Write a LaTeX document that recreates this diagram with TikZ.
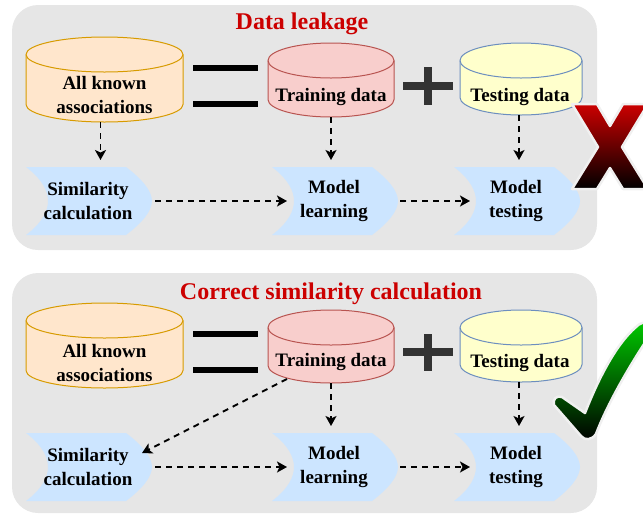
\documentclass[tikz,border=0pt]{standalone}
\usepackage{fontspec}
\setmainfont{Liberation Serif}
\usetikzlibrary{arrows.meta}

\definecolor{panelgray}{HTML}{E6E6E6}
\definecolor{orfill}{HTML}{FFE6CC}\definecolor{orline}{HTML}{D79B00}
\definecolor{rdfill}{HTML}{F8CECC}\definecolor{rdline}{HTML}{B85450}
\definecolor{ylfill}{HTML}{FFFFCC}\definecolor{blline}{HTML}{6C8EBF}
\definecolor{stepblue}{HTML}{CCE5FF}
\definecolor{titlered}{HTML}{CC0000}
\definecolor{plusgray}{HTML}{333333}
\definecolor{tickgreen}{HTML}{00CC00}

\def\dry{17.5}
% database drum: name, centre x, top y, width, height, colour style
\newcommand\drum[6]{%
  \pgfmathsetmacro\dL{#2-#4/2}%
  \pgfmathsetmacro\dR{#2+#4/2}%
  \pgfmathsetmacro\dT{#3+\dry}%
  \pgfmathsetmacro\dB{#3+#5-\dry}%
  \pgfmathsetmacro\dc{0.5523*#4/2}%
  \pgfmathsetmacro\dd{0.5523*\dry}%
  \path[#6] (\dL,\dT) -- (\dL,\dB)
     .. controls (\dL,{\dB+\dd}) and ({#2-\dc},{\dB+\dry}) .. (#2,{\dB+\dry})
     .. controls ({#2+\dc},{\dB+\dry}) and (\dR,{\dB+\dd}) .. (\dR,\dB)
     -- (\dR,\dT)
     .. controls (\dR,{\dT-\dd}) and ({#2+\dc},{\dT-\dry}) .. (#2,{\dT-\dry})
     .. controls ({#2-\dc},{\dT-\dry}) and (\dL,{\dT-\dd}) .. (\dL,\dT) -- cycle;
  \path[#6,fill=none] (\dL,\dT)
     .. controls (\dL,{\dT+\dd}) and ({#2-\dc},{\dT+\dry}) .. (#2,{\dT+\dry})
     .. controls ({#2+\dc},{\dT+\dry}) and (\dR,{\dT+\dd}) .. (\dR,\dT);
  \node[holder, minimum width=#4pt, minimum height=#5pt] (#1) at (#2,{#3+#5/2}) {};
}
% process step with curved notch and point: name, left x, top y, label
\newcommand\stepbox[4]{%
  \path[stepfill] (#2,#3) -- ({#2+100},#3)
     .. controls ({#2+116},{#3+12}) and ({#2+126},{#3+24}) .. ({#2+126},{#3+34})
     .. controls ({#2+126},{#3+44}) and ({#2+116},{#3+56}) .. ({#2+100},{#3+68})
     -- (#2,{#3+68})
     .. controls ({#2+16},{#3+56}) and ({#2+22},{#3+44}) .. ({#2+22},{#3+34})
     .. controls ({#2+22},{#3+24}) and ({#2+16},{#3+12}) .. (#2,#3) -- cycle;
  \node[lbl, minimum width=126pt, minimum height=68pt] (#1) at ({#2+62},{#3+34}) {#4};
}

\tikzset{
  holder/.style={rectangle, inner sep=0pt, outer sep=0pt},
  lbl/.style={inner sep=0pt, outer sep=0pt, align=center, text=black,
              font=\fontsize{19}{24}\selectfont\bfseries},
  headline/.style={inner sep=0pt, text=titlered, font=\fontsize{24}{28}\selectfont\bfseries},
  drumorange/.style={fill=orfill, draw=orline, line width=1pt},
  drumred/.style={fill=rdfill, draw=rdline, line width=1pt},
  drumyellow/.style={fill=ylfill, draw=blline, line width=1pt},
  stepfill/.style={fill=stepblue},
  panel/.style={fill=panelgray, rounded corners=26pt},
  arr/.style={line width=1.9pt, dash pattern=on 6pt off 5pt,
              -{Stealth[length=10pt,width=11pt,inset=2.5pt]}},
  eqbar/.style={line width=6pt, black},
  plusbar/.style={line width=8pt, plusgray},
  halo/.style={draw=white!88!gray, line width=2.5pt, line join=round},
}

\begin{document}
\begin{tikzpicture}[x=1pt, y=-1pt]
\useasboundingbox (0,0) rectangle (643,515);

% ---------- upper panel: data leakage ----------
\path[panel] (12,5) rectangle (597,250);
\node[headline] (head1) at (302,24) {Data leakage};

\drum{known1}{104.5}{37}{157}{85}{drumorange}
\node[lbl] (known1lbl) at (104.5,95) {All known\\associations};
\drum{train1}{331}{43}{126}{74}{drumred}
\node[lbl] (train1lbl) at (331,97) {Training data};
\drum{test1}{521}{43}{122}{72}{drumyellow}
\node[lbl] (test1lbl) at (520,97) {Testing data};

\draw[eqbar] (193,68) -- (258,68);
\draw[eqbar] (193,104) -- (258,104);
\draw[plusbar] (403,86) -- (453,86);
\draw[plusbar] (428,67) -- (428,105);

\stepbox{sim1}{26}{167}{Similarity\\calculation}
\stepbox{learn1}{272}{167}{Model\\learning}
\stepbox{testm1}{454}{167}{Model\\testing}

\draw[arr, shorten >=7pt] ([xshift=-4pt]known1.south) -- ([xshift=-4pt]known1.south |- sim1.north);
\draw[arr, shorten >=7pt] (train1.south) -- (train1.south |- learn1.north);
\draw[arr, shorten >=7pt] ([xshift=-2pt]test1.south) -- ([xshift=-2pt]test1.south |- testm1.north);
\draw[arr] ([xshift=4pt]sim1.east) -- ([xshift=16pt]learn1.west);
\draw[arr] ([xshift=3pt]learn1.east) -- ([xshift=17pt]testm1.west);

% red cross
\path[halo, top color=titlered, bottom color=black]
  (572,104) -- (597,104) -- (610,126) -- (623,104) -- (648,104) -- (622,147)
  -- (648,189) -- (623,189) -- (610,168) -- (597,189) -- (572,189) -- (598,147) -- cycle;

% ---------- lower panel: correct similarity calculation ----------
\path[panel] (12,273) rectangle (597,513);
\node[headline] (head2) at (331,294) {Correct similarity calculation};

\drum{known2}{104.5}{303}{157}{85}{drumorange}
\node[lbl] (known2lbl) at (104.5,363) {All known\\associations};
\drum{train2}{331}{310}{126}{73}{drumred}
\node[lbl] (train2lbl) at (331,362) {Training data};
\drum{test2}{521}{310}{122}{72}{drumyellow}
\node[lbl] (test2lbl) at (520,363) {Testing data};

\draw[eqbar] (193,334) -- (258,334);
\draw[eqbar] (193,370) -- (258,370);
\draw[plusbar] (403,352) -- (453,352);
\draw[plusbar] (428,334) -- (428,371);

\stepbox{sim2}{26}{433}{Similarity\\calculation}
\stepbox{learn2}{272}{433}{Model\\learning}
\stepbox{testm2}{454}{433}{Model\\testing}

\draw[arr] ([xshift=-44pt,yshift=4pt]train2.south) -- ([xshift=-9pt,yshift=-20pt]sim2.north east);
\draw[arr, shorten >=7pt] (train2.south) -- (train2.south |- learn2.north);
\draw[arr, shorten >=7pt] ([xshift=-2pt]test2.south) -- ([xshift=-2pt]test2.south |- testm2.north);
\draw[arr] ([xshift=4pt]sim2.east) -- ([xshift=16pt]learn2.west);
\draw[arr] ([xshift=3pt]learn2.east) -- ([xshift=17pt]testm2.west);

% green tick
\path[halo, top color=tickgreen, bottom color=black]
  (554,405) .. controls (552,399) and (557,395) .. (562,397)
  -- (585,413)
  .. controls (597,382) and (615,345) .. (636,327)
  .. controls (643,319) and (656,322) .. (650,335)
  .. controls (628,368) and (607,405) .. (596,434)
  .. controls (592,440) and (585,441) .. (581,436) -- cycle;
\end{tikzpicture}
\end{document}
